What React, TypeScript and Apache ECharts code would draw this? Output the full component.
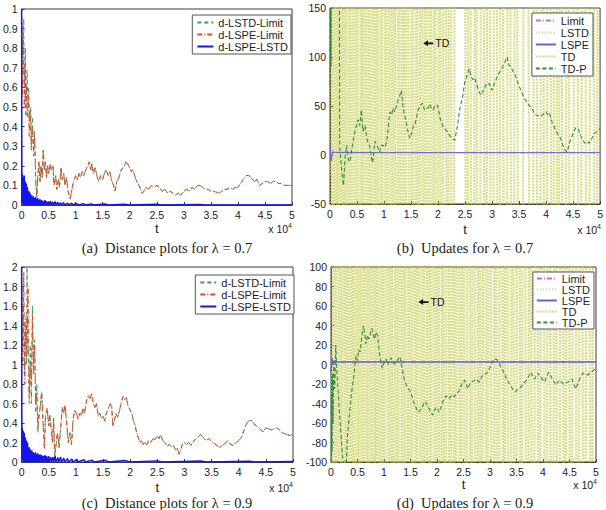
import React, { useEffect, useRef } from 'react';
import * as echarts from 'echarts';

// ---------- Panel (a): distance plots, lambda = 0.7 (t in units of 1e4) ----------
const aLstdHead = [[0,1.0],[0.02,0.75],[0.04,0.95],[0.05,0.6],[0.07,0.8],[0.08,0.45],[0.1,0.69],[0.12,0.5],[0.13,0.6],[0.15,0.42],[0.17,0.5],[0.18,0.3],[0.2,0.45],[0.22,0.25],[0.24,0.38],[0.26,0.15]];
const aLspeHead = [[0,1.0],[0.01,0.55],[0.03,0.88],[0.05,0.5],[0.06,0.72],[0.08,0.5],[0.09,0.62],[0.11,0.45],[0.13,0.56],[0.14,0.35],[0.16,0.47],[0.18,0.28],[0.2,0.4],[0.22,0.28],[0.24,0.35],[0.26,0.12]];
const aLimitTail = [[0.28,0.04],[0.3,0.15],[0.32,0.22],[0.34,0.12],[0.36,0.2],[0.38,0.14],[0.4,0.28],[0.42,0.18],[0.44,0.22],[0.46,0.14],[0.48,0.2],[0.5,0.16],[0.53,0.21],[0.55,0.18],[0.58,0.2],[0.6,0.1],[0.63,0.15],[0.65,0.08],[0.68,0.13],[0.7,0.09],[0.73,0.19],[0.75,0.13],[0.78,0.16],[0.8,0.1],[0.83,0.14],[0.86,0.07],[0.9,0.03],[0.93,0.08],[0.96,0.12],[1.0,0.15],[1.03,0.13],[1.06,0.16],[1.09,0.14],[1.12,0.17],[1.15,0.15],[1.2,0.19],[1.23,0.2],[1.25,0.22],[1.28,0.18],[1.3,0.21],[1.33,0.16],[1.36,0.19],[1.4,0.14],[1.43,0.12],[1.46,0.15],[1.5,0.13],[1.53,0.16],[1.56,0.18],[1.6,0.15],[1.63,0.17],[1.66,0.13],[1.7,0.1],[1.73,0.07],[1.76,0.12],[1.8,0.14],[1.83,0.17],[1.87,0.19],[1.9,0.2],[1.93,0.22],[1.96,0.21],[2.0,0.19],[2.03,0.17],[2.06,0.18],[2.1,0.14],[2.13,0.12],[2.17,0.1],[2.2,0.08],[2.23,0.06],[2.26,0.07],[2.3,0.09],[2.35,0.08],[2.4,0.1],[2.45,0.09],[2.5,0.1],[2.55,0.09],[2.6,0.07],[2.65,0.08],[2.7,0.06],[2.75,0.07],[2.8,0.06],[2.85,0.05],[2.9,0.06],[2.95,0.05],[3.0,0.07],[3.05,0.08],[3.1,0.07],[3.15,0.09],[3.2,0.08],[3.25,0.1],[3.3,0.1],[3.35,0.09],[3.4,0.08],[3.45,0.08],[3.5,0.07],[3.55,0.07],[3.6,0.065],[3.65,0.06],[3.7,0.07],[3.75,0.08],[3.8,0.08],[3.85,0.09],[3.9,0.08],[3.95,0.09],[4.0,0.09],[4.05,0.11],[4.1,0.13],[4.15,0.15],[4.2,0.15],[4.25,0.14],[4.3,0.12],[4.35,0.13],[4.4,0.1],[4.45,0.11],[4.5,0.12],[4.55,0.12],[4.6,0.11],[4.65,0.12],[4.7,0.12],[4.75,0.11],[4.8,0.11],[4.85,0.1],[4.9,0.1],[4.95,0.1],[5.0,0.1]];
const aLspeLstd = [[0,1.0],[0.004,0.2],[0.008,0.02],[0.012,0.16],[0.016,0.01],[0.02,0.15],[0.025,0.0],[0.03,0.14],[0.035,0.01],[0.04,0.12],[0.045,0.0],[0.05,0.15],[0.055,0.01],[0.06,0.1],[0.065,0.0],[0.07,0.12],[0.075,0.01],[0.08,0.09],[0.085,0.0],[0.09,0.11],[0.095,0.0],[0.1,0.08],[0.105,0.01],[0.11,0.09],[0.115,0.0],[0.12,0.07],[0.125,0.0],[0.13,0.06],[0.135,0.0],[0.14,0.07],[0.145,0.0],[0.15,0.05],[0.155,0.0],[0.16,0.06],[0.165,0.0],[0.17,0.05],[0.175,0.0],[0.18,0.04],[0.185,0.0],[0.19,0.05],[0.195,0.0],[0.2,0.04],[0.21,0.0],[0.22,0.045],[0.23,0.0],[0.24,0.035],[0.25,0.0],[0.26,0.04],[0.27,0.0],[0.28,0.03],[0.29,0.0],[0.3,0.035],[0.31,0.0],[0.32,0.025],[0.33,0.0],[0.34,0.03],[0.35,0.0],[0.37,0.025],[0.38,0.0],[0.4,0.02],[0.41,0.0],[0.43,0.025],[0.44,0.0],[0.46,0.02],[0.47,0.0],[0.5,0.018],[0.51,0.0],[0.54,0.02],[0.55,0.0],[0.58,0.015],[0.59,0.0],[0.62,0.018],[0.63,0.0],[0.67,0.014],[0.68,0.0],[0.72,0.012],[0.73,0.0],[0.78,0.012],[0.79,0.0],[0.85,0.01],[0.86,0.0],[0.93,0.009],[0.94,0.0],[1.02,0.008],[1.04,0.0],[1.15,0.007],[1.17,0.0],[1.3,0.006],[1.33,0.0],[1.55,0.005],[1.6,0.0],[1.9,0.004],[2.0,0.0],[2.5,0.004],[2.6,0.0],[3.3,0.003],[3.4,0.0],[5.0,0.0]];

// ---------- Panel (c): distance plots, lambda = 0.9 ----------
const cLstdHead = [[0,2.0],[0.02,1.2],[0.03,1.6],[0.05,0.9],[0.07,1.4],[0.09,1.0],[0.1,2.0],[0.12,1.1],[0.14,0.6],[0.16,1.2],[0.18,0.8],[0.2,1.6],[0.22,1.0],[0.24,1.25],[0.26,0.5],[0.28,0.8],[0.3,0.3],[0.32,0.45]];
const cLspeHead = [[0,2.0],[0.02,1.0],[0.04,1.95],[0.06,0.8],[0.08,1.5],[0.1,1.1],[0.12,1.8],[0.14,0.7],[0.16,1.0],[0.18,0.6],[0.2,1.5],[0.22,0.9],[0.24,1.2],[0.26,0.6],[0.28,0.7],[0.3,0.35],[0.32,0.5]];
const cLimitTail = [[0.34,0.55],[0.37,0.72],[0.4,0.35],[0.42,0.14],[0.44,0.47],[0.47,0.55],[0.5,0.37],[0.52,0.48],[0.55,0.3],[0.57,0.2],[0.59,0.45],[0.61,0.06],[0.63,0.15],[0.66,0.3],[0.69,0.15],[0.72,0.35],[0.75,0.56],[0.78,0.5],[0.8,0.58],[0.83,0.4],[0.86,0.2],[0.89,0.3],[0.92,0.18],[0.95,0.45],[0.98,0.53],[1.01,0.5],[1.04,0.44],[1.07,0.5],[1.1,0.47],[1.13,0.55],[1.16,0.5],[1.2,0.64],[1.23,0.68],[1.26,0.65],[1.29,0.7],[1.32,0.6],[1.35,0.56],[1.38,0.6],[1.41,0.47],[1.44,0.5],[1.47,0.45],[1.5,0.47],[1.53,0.42],[1.56,0.5],[1.6,0.55],[1.63,0.6],[1.66,0.57],[1.68,0.37],[1.71,0.43],[1.74,0.5],[1.77,0.46],[1.8,0.52],[1.84,0.62],[1.87,0.67],[1.9,0.64],[1.93,0.66],[1.96,0.58],[2.0,0.53],[2.03,0.5],[2.06,0.42],[2.09,0.38],[2.12,0.3],[2.15,0.25],[2.18,0.2],[2.21,0.22],[2.24,0.18],[2.27,0.2],[2.3,0.17],[2.34,0.22],[2.38,0.2],[2.42,0.24],[2.46,0.23],[2.5,0.27],[2.53,0.24],[2.56,0.28],[2.6,0.22],[2.64,0.2],[2.68,0.16],[2.72,0.18],[2.76,0.15],[2.8,0.17],[2.84,0.12],[2.87,0.14],[2.9,0.08],[2.93,0.12],[2.96,0.18],[3.0,0.2],[3.04,0.18],[3.08,0.2],[3.12,0.17],[3.16,0.21],[3.2,0.23],[3.25,0.26],[3.3,0.28],[3.35,0.25],[3.4,0.22],[3.45,0.24],[3.5,0.21],[3.55,0.19],[3.6,0.17],[3.65,0.15],[3.7,0.17],[3.75,0.19],[3.8,0.22],[3.85,0.18],[3.9,0.17],[3.95,0.2],[4.0,0.22],[4.05,0.25],[4.1,0.33],[4.15,0.4],[4.2,0.43],[4.25,0.42],[4.3,0.38],[4.35,0.36],[4.4,0.33],[4.45,0.31],[4.5,0.35],[4.55,0.34],[4.6,0.33],[4.65,0.34],[4.7,0.35],[4.75,0.33],[4.8,0.3],[4.85,0.29],[4.9,0.28],[4.95,0.27],[5.0,0.29]];
const cLspeLstd = [[0,2.0],[0.004,0.5],[0.008,0.03],[0.012,0.35],[0.016,0.02],[0.02,0.3],[0.025,0.0],[0.03,0.32],[0.035,0.02],[0.04,0.26],[0.045,0.0],[0.05,0.3],[0.055,0.02],[0.06,0.22],[0.065,0.0],[0.07,0.25],[0.075,0.02],[0.08,0.2],[0.085,0.0],[0.09,0.22],[0.095,0.0],[0.1,0.18],[0.105,0.02],[0.11,0.2],[0.115,0.0],[0.12,0.15],[0.125,0.0],[0.13,0.14],[0.135,0.0],[0.14,0.15],[0.145,0.0],[0.15,0.12],[0.155,0.0],[0.16,0.13],[0.165,0.0],[0.17,0.11],[0.175,0.0],[0.18,0.1],[0.185,0.0],[0.19,0.12],[0.195,0.0],[0.2,0.1],[0.21,0.0],[0.22,0.1],[0.23,0.0],[0.24,0.09],[0.25,0.0],[0.26,0.1],[0.27,0.0],[0.28,0.08],[0.29,0.0],[0.3,0.09],[0.31,0.0],[0.32,0.07],[0.33,0.0],[0.34,0.08],[0.35,0.0],[0.37,0.07],[0.38,0.0],[0.4,0.06],[0.41,0.0],[0.43,0.07],[0.44,0.0],[0.46,0.06],[0.47,0.0],[0.5,0.06],[0.51,0.0],[0.54,0.05],[0.55,0.0],[0.58,0.05],[0.59,0.0],[0.62,0.06],[0.63,0.0],[0.67,0.045],[0.68,0.0],[0.72,0.05],[0.73,0.0],[0.78,0.04],[0.79,0.0],[0.85,0.035],[0.86,0.0],[0.93,0.03],[0.94,0.0],[1.02,0.028],[1.04,0.0],[1.15,0.025],[1.17,0.0],[1.3,0.02],[1.33,0.0],[1.55,0.018],[1.6,0.0],[1.9,0.015],[2.0,0.0],[2.5,0.012],[2.6,0.0],[3.3,0.01],[3.4,0.0],[4.2,0.008],[4.3,0.0],[5.0,0.005]];

// ---------- Panel (b): updates, lambda = 0.7 ----------
const bLimit = [[0,2.4],[5,2.4]];
const bLstd = [[0,-20],[0.02,15],[0.05,4],[0.1,2.8],[0.5,2.5],[1,2.4],[5,2.4]];
const bLspe = [[0,12],[0.02,-6],[0.05,3.5],[0.1,2.6],[0.5,2.5],[1,2.4],[5,2.4]];
const bTdp = [[0,72],[0.01,300],[0.02,90],[0.03,300],[0.17,320],[0.18,8],[0.21,-12],[0.25,-31],[0.28,-2],[0.31,10],[0.34,-5],[0.37,-7],[0.4,5],[0.43,15],[0.46,24],[0.49,30],[0.52,36],[0.55,30],[0.58,46],[0.61,24],[0.65,30],[0.68,17],[0.71,12],[0.74,8],[0.77,-3],[0.79,-8],[0.83,14],[0.87,10],[0.9,6],[0.92,3],[0.95,10],[0.98,10],[1.02,8],[1.05,14],[1.11,44],[1.14,41],[1.17,48],[1.2,44],[1.26,56],[1.29,60],[1.32,66],[1.36,46],[1.41,34],[1.45,22],[1.48,17],[1.51,22],[1.54,29],[1.57,30],[1.63,46],[1.67,50],[1.71,53],[1.75,46],[1.78,48],[1.82,48],[1.85,52],[1.88,47],[1.91,46],[1.94,50],[1.99,51],[2.04,37],[2.09,29],[2.12,27],[2.17,24],[2.21,20],[2.27,17],[2.31,15],[2.36,30],[2.4,46],[2.46,61],[2.49,73],[2.54,82],[2.58,88],[2.61,80],[2.64,77],[2.68,79],[2.71,73],[2.77,63],[2.8,61],[2.84,66],[2.89,72],[2.92,71],[2.95,73],[3.0,66],[3.05,74],[3.11,82],[3.16,86],[3.2,90],[3.24,95],[3.28,100],[3.31,92],[3.35,90],[3.4,84],[3.44,80],[3.49,72],[3.54,65],[3.58,60],[3.63,55],[3.68,51],[3.72,49],[3.77,44],[3.81,41],[3.86,40],[3.9,39],[3.95,42],[4.0,44],[4.03,41],[4.06,43],[4.12,32],[4.19,24],[4.23,20],[4.27,17],[4.31,10],[4.35,5],[4.39,3],[4.43,12],[4.5,22],[4.55,28],[4.6,26],[4.64,20],[4.68,15],[4.72,12],[4.76,14],[4.8,12],[4.85,17],[4.89,22],[4.95,24],[5.0,27]];
const bTdT = [0.00,0.03,0.06,0.09,0.12,0.15,0.19,0.22,0.26,0.29,0.33,0.36,0.40,0.43,0.47,0.50,0.54,0.58,0.61,0.65,0.69,0.72,0.76,0.80,0.84,0.87,0.91,0.95,0.99,1.03,1.07,1.11,1.15,1.19,1.23,1.27,1.31,1.35,1.39,1.43,1.48,1.52,1.56,1.60,1.64,1.69,1.73,1.77,1.81,1.85,1.90,1.94,1.98,2.03,2.07,2.12,2.17,2.22,2.27,2.32,2.48,2.53,2.58,2.64,2.70,2.75,2.82,2.88,2.93,3.00,3.06,3.12,3.18,3.25,3.31,3.38,3.44,3.52,3.62,3.74,3.80,3.86,3.93,3.99,4.05,4.12,4.18,4.22,4.27,4.33,4.40,4.47,4.55,4.62,4.70,4.77,4.85,4.92,4.98];
const bTdV = [-1200,900,-800,1100,-950,750,-1300,1000,-870,920,-1050,680,-990,1150,-760,840,-1180,930,-820,1020,-1100,790,-940,1210,-860,980,-1070,720,-1160,880,-900,1040,-780,960,-1230,810,-970,1090,-840,1130,-1010,700,-1190,950,-880,1060,-930,770,-1120,1000,-850,910,-1040,830,-960,1170,-810,990,-1090,740,1150,-870,920,-1010,790,-1100,1060,-800,980,-940,1200,-760,870,-1080,1010,-900,830,-1140,950,-820,1110,-970,890,-1050,1030,-730,1170,-860,910,-1020,800,-1120,1080,-780,990,-930,1140,-840,960];
const bTdLabel = [1.82, 114];

// ---------- Panel (d): updates, lambda = 0.9 ----------
const dLimit = [[0,2.6],[5,2.6]];
const dLstd = [[0,-30],[0.02,10],[0.05,3],[0.1,2.6],[5,2.6]];
const dLspe = [[0,-8],[0.02,6],[0.04,1],[0.07,4],[0.1,2.6],[5,2.6]];
const dTdp = [[0,-300],[0.01,-40],[0.02,-90],[0.03,-10],[0.04,-60],[0.05,2],[0.07,-25],[0.09,20],[0.11,-8],[0.14,-32],[0.16,-50],[0.19,-73],[0.22,-95],[0.25,-130],[0.28,-115],[0.31,-73],[0.35,-50],[0.38,-32],[0.41,-20],[0.44,-8],[0.47,9],[0.5,4],[0.52,15],[0.55,13],[0.58,28],[0.61,40],[0.64,30],[0.66,21],[0.69,30],[0.72,26],[0.75,33],[0.77,37],[0.8,30],[0.82,26],[0.85,33],[0.88,30],[0.92,9],[0.95,0],[0.97,-4],[1.0,2],[1.04,6],[1.07,0],[1.1,3],[1.13,7],[1.16,4],[1.2,0],[1.24,3],[1.27,6],[1.3,8],[1.35,-6],[1.38,-15],[1.42,-21],[1.49,-27],[1.53,-33],[1.57,-40],[1.61,-45],[1.65,-49],[1.69,-46],[1.72,-44],[1.75,-40],[1.78,-38],[1.81,-41],[1.84,-44],[1.88,-48],[1.92,-52],[1.95,-47],[1.98,-44],[2.01,-46],[2.04,-49],[2.08,-43],[2.11,-38],[2.14,-35],[2.17,-32],[2.2,-34],[2.23,-35],[2.28,-31],[2.33,-33],[2.38,-29],[2.42,-27],[2.47,-20],[2.52,-16],[2.55,-20],[2.58,-25],[2.61,-21],[2.64,-18],[2.69,-17],[2.74,-15],[2.77,-17],[2.8,-18],[2.83,-14],[2.86,-11],[2.9,-10],[2.94,-9],[2.98,-5],[3.02,-1],[3.05,3],[3.08,6],[3.13,5],[3.18,1],[3.21,-3],[3.24,-6],[3.28,-10],[3.31,-15],[3.36,-19],[3.4,-23],[3.44,-26],[3.48,-28],[3.51,-26],[3.55,-25],[3.58,-23],[3.62,-21],[3.66,-18],[3.69,-16],[3.73,-12],[3.77,-8],[3.8,-11],[3.84,-15],[3.87,-12],[3.9,-9],[3.93,-11],[3.96,-13],[4.0,-16],[4.03,-18],[4.07,-12],[4.11,-8],[4.14,-11],[4.18,-15],[4.21,-18],[4.25,-21],[4.28,-18],[4.31,-16],[4.35,-18],[4.38,-20],[4.42,-19],[4.47,-18],[4.51,-16],[4.55,-15],[4.58,-20],[4.62,-25],[4.66,-19],[4.69,-15],[4.72,-12],[4.75,-9],[4.8,-10],[4.84,-11],[4.88,-9],[4.91,-8],[4.95,-6],[5.0,-4]];
const dTdT = [0.00,0.04,0.08,0.12,0.16,0.20,0.24,0.28,0.32,0.36,0.40,0.44,0.48,0.52,0.56,0.60,0.64,0.68,0.72,0.76,0.80,0.84,0.88,0.92,0.96,1.00,1.05,1.09,1.13,1.17,1.22,1.26,1.30,1.35,1.39,1.43,1.48,1.52,1.56,1.61,1.65,1.70,1.74,1.79,1.83,1.88,1.92,1.97,2.01,2.06,2.11,2.15,2.20,2.25,2.30,2.34,2.39,2.44,2.49,2.54,2.59,2.64,2.69,2.74,2.79,2.84,2.89,2.94,2.99,3.05,3.10,3.15,3.21,3.26,3.31,3.37,3.42,3.48,3.53,3.59,3.64,3.70,3.76,3.81,3.87,3.93,3.99,4.05,4.11,4.17,4.23,4.29,4.35,4.41,4.47,4.53,4.59,4.65,4.72,4.78,4.84,4.91,4.97];
const dTdV = [1100,-950,870,-1200,990,-800,1150,-880,930,-1050,820,-1130,1060,-760,980,-1010,1190,-840,900,-970,1080,-720,1010,-1160,850,-930,1120,-790,960,-1070,880,-1000,1210,-850,940,-1110,830,-980,1090,-760,1030,-920,870,-1180,1000,-810,1140,-890,920,-1040,800,-1150,1070,-770,990,-960,1170,-830,910,-1020,1100,-740,1020,-1130,860,-940,1130,-800,950,-1080,890,-990,1200,-860,930,-1100,840,-970,1080,-750,1040,-910,880,-1170,990,-820,1150,-900,930,-1030,810,-1140,1060,-780,1000,-950,1160,-840,920,-1010,1090,-730,1010];
const dTdLabel = [1.745, 64];

// ---------- axis tick settings ----------
const xTickMin = 0, xTickMax = 5, xTickStep = 0.5;
const yTicks = [
  { min: 0, max: 1, step: 0.1 },
  { min: -50, max: 150, step: 50 },
  { min: 0, max: 2, step: 0.2 },
  { min: -100, max: 100, step: 20 },
];
const distNames = ['d-LSTD-Limit', 'd-LSPE-Limit', 'd-LSPE-LSTD'];
const updNames = ['Limit', 'LSTD', 'LSPE', 'TD', 'TD-P'];
const captions = ['(a)  Distance plots for λ = 0.7', '(b)  Updates for λ = 0.7', '(c)  Distance plots for λ = 0.9', '(d)  Updates for λ = 0.9'];

const SANS = 'Liberation Sans, Arial, sans-serif';
const SERIF = 'Liberation Serif, Times New Roman, serif';
const INK = '#1c1c1c';

const zip = (t: number[], v: number[]) => t.slice(0, Math.min(t.length, v.length)).map((x, i) => [x, v[i]]);

function buildOption() {
  const grids = [
    { left: 18, top: 9, width: 274, height: 196 },
    { left: 330, top: 8, width: 271, height: 196 },
    { left: 21, top: 267, width: 272, height: 195 },
    { left: 331, top: 267, width: 265, height: 195 },
  ].map((g) => ({ ...g, show: true, borderColor: '#3a3a3a', borderWidth: 1, backgroundColor: 'transparent' }));
  const nameGaps = [17, 19, 19, 16];
  const xAxis = grids.map((_, i) => ({
    gridIndex: i, type: 'value', min: xTickMin, max: xTickMax, interval: xTickStep,
    name: 't', nameLocation: 'middle', nameGap: nameGaps[i],
    nameTextStyle: { fontSize: 13, color: INK, fontFamily: SANS },
    axisLine: { onZero: false, lineStyle: { color: '#3a3a3a', width: 1 } },
    axisTick: { inside: true, length: 3, lineStyle: { color: '#3a3a3a' } },
    axisLabel: { fontSize: 10.5, color: INK, fontFamily: SANS, margin: 4 },
    splitLine: { show: false },
  }));
  const yAxis = yTicks.map((y, i) => ({
    gridIndex: i, type: 'value', min: y.min, max: y.max, interval: y.step,
    axisLine: { show: true, onZero: false, lineStyle: { color: '#3a3a3a', width: 1 } },
    axisTick: { show: true, inside: true, length: 3, lineStyle: { color: '#3a3a3a' } },
    axisLabel: { fontSize: 10.5, color: INK, fontFamily: SANS, margin: 4 },
    splitLine: { show: false },
  }));

  const line = (name: string, idx: number, data: any[], color: string, type: any, width = 1, extra: any = {}) => ({
    type: 'line', name, xAxisIndex: idx, yAxisIndex: idx, data, showSymbol: false, symbol: 'none',
    clip: true, silent: true, lineStyle: { color, width, type }, itemStyle: { color }, ...extra,
  });

  const GREEN = '#3f9a63', RED = '#e04a24', BLUE = '#1414f0';
  const TDC = '#bfc736', TDPC = '#2f8f3a', LIMC = '#d36bb0', LSTDC = '#c9cf8e', LSPEC = '#6464d6';
  const arrowPath = 'path://M0,5L6,0L6,3.5L13,3.5L13,6.5L6,6.5L6,10Z';
  const tdMark = (coord: number[]) => ({
    symbol: arrowPath, symbolSize: [10, 6], silent: true,
    itemStyle: { color: '#111' },
    label: { show: true, position: 'right', distance: 2, formatter: 'TD', color: '#111', fontSize: 10.5, fontFamily: SANS },
    data: [{ coord }],
  });
  const tdStyle = (w: number) => ({ lineStyle: { color: TDC, width: w, type: [2, 1], opacity: 0.6 } });

  const series: any[] = [
    line(distNames[0], 0, aLstdHead.concat(aLimitTail), GREEN, [4, 3]),
    line(distNames[1], 0, aLspeHead.concat(aLimitTail), RED, [5, 2, 1, 2]),
    line(distNames[2], 0, aLspeLstd, BLUE, 'solid', 1.4),

    line(updNames[3], 1, zip(bTdT, bTdV), TDC, [2, 1], 2, tdStyle(2.2)),
    line(updNames[0], 1, bLimit, LIMC, [5, 2, 1, 2]),
    line(updNames[1], 1, bLstd, LSTDC, [1, 2]),
    line(updNames[2], 1, bLspe, LSPEC, 'solid', 1),
    line(updNames[4], 1, bTdp, TDPC, [4, 2.5], 1.1, { markPoint: tdMark(bTdLabel) }),

    line(distNames[0], 2, cLstdHead.concat(cLimitTail), GREEN, [4, 3]),
    line(distNames[1], 2, cLspeHead.concat(cLimitTail), RED, [5, 2, 1, 2]),
    line(distNames[2], 2, cLspeLstd, BLUE, 'solid', 1.4),

    line(updNames[3], 3, zip(dTdT, dTdV), TDC, [2, 1], 2, tdStyle(2.4)),
    line(updNames[0], 3, dLimit, LIMC, [5, 2, 1, 2]),
    line(updNames[1], 3, dLstd, LSTDC, [1, 2]),
    line(updNames[2], 3, dLspe, LSPEC, 'solid', 1.5),
    line(updNames[4], 3, dTdp, TDPC, [4, 2.5], 1.1, { markPoint: tdMark(dTdLabel) }),
  ];

  const legendBase = {
    orient: 'vertical', selectedMode: false, itemHeight: 8, itemGap: 1,
    borderColor: '#555', borderWidth: 1, backgroundColor: '#fff', borderRadius: 0,
    itemStyle: { opacity: 0, borderWidth: 0 },
    textStyle: { fontSize: 11, color: INK, fontFamily: SANS, lineHeight: 10 },
  };
  const legend = [
    { ...legendBase, right: 315, top: 15, itemWidth: 16, padding: [2, 3, 2, 4], data: distNames },
    { ...legendBase, right: 13, top: 13, itemWidth: 20, padding: [2, 4, 2, 3], data: updNames },
    { ...legendBase, right: 312, top: 275, itemWidth: 16, padding: [2, 3, 2, 4], data: distNames },
    { ...legendBase, right: 12, top: 272, itemWidth: 20, padding: [1, 4, 1, 3], itemGap: 0, data: updNames },
  ];

  const capPos = [[167, 248], [465, 248], [167, 503], [465, 503]];
  const expPos = [[292, 229], [601, 230], [293, 488], [597, 485]];
  const graphic: any[] = [];
  captions.forEach((c, i) => graphic.push({
    type: 'text', x: capPos[i][0], y: capPos[i][1], silent: true,
    style: { text: c, fontSize: 14.5, fontFamily: SERIF, fill: '#222', textAlign: 'center', textVerticalAlign: 'middle' },
  }));
  expPos.forEach((p) => graphic.push({
    type: 'text', x: p[0], y: p[1], silent: true,
    style: {
      text: 'x 10{s|4}', fontSize: 10.5, fontFamily: SANS, fill: INK, textAlign: 'right', textVerticalAlign: 'middle',
      rich: { s: { fontSize: 7, fontFamily: SANS, fill: INK, padding: [0, 0, 7, 0] } },
    },
  }));

  return { animation: false, backgroundColor: '#fff', grid: grids, xAxis, yAxis, series, legend, graphic };
}

export default function App() {
  const ref = useRef<HTMLDivElement>(null);
  useEffect(() => {
    if (!ref.current) return;
    const chart = echarts.init(ref.current, null, { renderer: 'svg' });
    chart.setOption(buildOption() as any);
    return () => chart.dispose();
  }, []);
  return <div ref={ref} style={{ position: 'fixed', left: 0, top: 0, width: 606, height: 510, background: '#fff' }} />;
}
